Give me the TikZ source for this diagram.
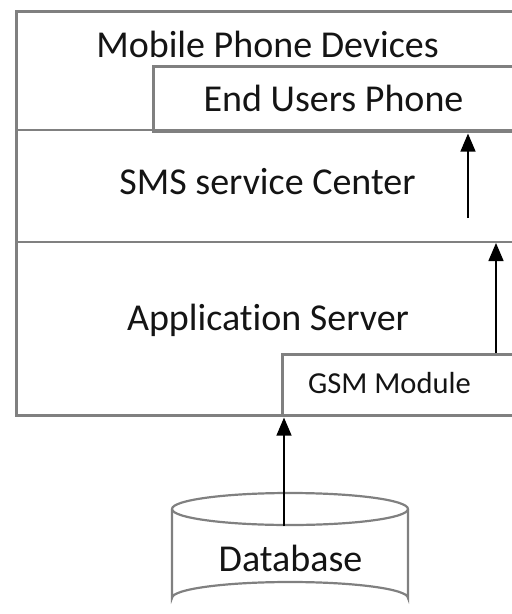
\documentclass[tikz,border=0pt]{standalone}
\usepackage{fontspec}
\setmainfont{Carlito}[Ligatures=NoCommon]
\usetikzlibrary{arrows.meta}
\definecolor{frame}{HTML}{808080}
\definecolor{ink}{HTML}{141414}
\tikzset{
  layerline/.style={draw=frame, line width=2.6pt},
  label/.style={anchor=base, inner sep=0pt, text=ink, font=\fontsize{38}{41}\selectfont},
  smalllabel/.style={anchor=base, inner sep=0pt, text=ink, font=\fontsize{30.5}{33}\selectfont},
  flow/.style={draw=black, line width=1.4pt, -{Triangle[length=18pt,width=15pt]}, shorten >=1pt}
}
\begin{document}
\begin{tikzpicture}[x=1pt,y=-1pt]
\useasboundingbox (0,0) rectangle (512,614);
\clip (0,0) rectangle (512,614);

% layered stack, open to the right
\node[layerline, minimum width=520pt, minimum height=404pt, anchor=north west, inner sep=0pt] (stack) at (15,10) {};
\node[layerline, minimum width=380pt, minimum height=65pt, anchor=north west, inner sep=0pt] (enduser) at (152,65) {};
\draw[layerline] (15,130) coordinate (l1) -- (530,130);
\draw[layerline] (15,242) coordinate (l2) -- (530,242);
\node[layerline, minimum width=250pt, minimum height=61pt, anchor=north west, inner sep=0pt] (gsm) at (281,353) {};

% labels
\node[label] (tmobile) at (267.5,57) {Mobile Phone Devices};
\node[label] (tend) at (333.5,111) {End Users Phone};
\node[label] (tsms) at (267.5,194) {SMS service Center};
\node[label] (tapp) at (268,330) {Application Server};
\node[smalllabel] (tgsm) at (389.5,393) {GSM Module};

% database cylinder
\coordinate (dbc) at (290,509);
\draw[layerline, line width=2.2pt] (172,509) -- (172,598) arc[start angle=180, end angle=360, x radius=118, y radius=16] -- (408,509);
\draw[layerline, line width=2.2pt] (dbc) ellipse[x radius=118, y radius=16];
\node[label] (tdb) at (290.5,571) {Database};

% message flow
\coordinate (a1) at (468,218);
\coordinate (a2) at (496,353);
\coordinate (a3) at (284,526);
\draw[flow] (a1) -- (a1 |- enduser.south);
\draw[flow] (a2) -- (a2 |- l2);
\draw[flow] (a3) -- (a3 |- stack.south);
\end{tikzpicture}
\end{document}
